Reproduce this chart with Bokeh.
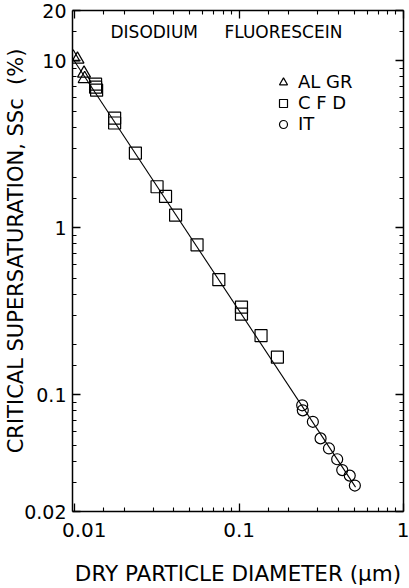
import math
from bokeh.plotting import figure
from bokeh.models import (Range1d, LogAxis, FixedTicker, Label, Legend, LegendItem,
                          CustomJSTickFormatter)
from bokeh.embed import file_html
from bokeh.resources import INLINE

# ---- data ----
algr_d = [0.0098, 0.0104, 0.0114, 0.0115]
algr_ss = [10.5, 10.2, 8.4, 7.8]

cfd_d = [0.0134, 0.0134, 0.0136, 0.0175, 0.0175, 0.0234, 0.0317, 0.0357,
         0.0411, 0.0555, 0.0753, 0.1034, 0.1034, 0.136, 0.171]
cfd_ss = [7.24, 6.95, 6.67, 4.54, 4.24, 2.80, 1.76, 1.54,
          1.19, 0.79, 0.489, 0.335, 0.304, 0.226, 0.168]

it_d = [0.242, 0.244, 0.281, 0.313, 0.352, 0.395, 0.424, 0.471, 0.506]
it_ss = [0.0865, 0.0807, 0.0689, 0.0548, 0.0477, 0.0411, 0.0354, 0.0328, 0.0286]

fit_d = [0.0097, 0.511]
fit_ss = [10.35, 0.028]

x_major = [0.01, 0.1, 1]
x_minor = [0.015, 0.02, 0.03, 0.04, 0.05, 0.06, 0.07, 0.08, 0.09,
           0.15, 0.2, 0.3, 0.4, 0.5, 0.6, 0.7, 0.8, 0.9]
y_major = [0.02, 0.1, 1, 10, 20]
y_minor = [0.03, 0.04, 0.05, 0.06, 0.07, 0.08, 0.09,
           0.15, 0.2, 0.3, 0.4, 0.5, 0.6, 0.7, 0.8, 0.9,
           1.5, 2, 3, 4, 5, 6, 7, 8, 9, 15]

legend_labels = ["AL GR", "C F D", "IT"]
title_words = ["DISODIUM", "FLUORESCEIN"]
x_title = "DRY PARTICLE DIAMETER (\u03bcm)"
NB = "\u00a0"
y_title = NB * 3 + "CRITICAL SUPERSATURATION, SS\u1d04" + NB * 2 + "(%)"

FONT = "DejaVu Sans"

p = figure(width=409, height=588, x_axis_type="log", y_axis_type="log",
           x_range=Range1d(0.0097, 1.0), y_range=Range1d(0.02, 20),
           output_backend="svg", toolbar_location=None,
           min_border_left=72, min_border_right=6, min_border_top=10,
           min_border_bottom=75)
p.xgrid.grid_line_color = None
p.ygrid.grid_line_color = None
p.outline_line_color = None
p.background_fill_color = "white"
p.border_fill_color = "white"

x_fmt = CustomJSTickFormatter(
    code="return (tick < 0.011) ? '\\u00a0\\u00a0\\u00a00.01' : tick.toString();")
y_fmt = CustomJSTickFormatter(code="return tick.toString();")
blank_fmt = CustomJSTickFormatter(code="return '';")

def style_axis(ax, ticks, minors, fmt, standoff, size):
    ax.ticker = FixedTicker(ticks=ticks, minor_ticks=minors)
    ax.formatter = fmt
    ax.axis_line_color = "black"
    ax.axis_line_width = 1.5
    ax.major_tick_line_color = "black"
    ax.minor_tick_line_color = "black"
    ax.major_tick_line_width = 1.3
    ax.minor_tick_line_width = 1.1
    ax.major_tick_in = 8
    ax.major_tick_out = 0
    ax.minor_tick_in = 4
    ax.minor_tick_out = 0
    ax.major_label_text_font = FONT
    ax.major_label_text_font_size = size
    ax.major_label_text_color = "black"
    ax.major_label_standoff = standoff
    ax.axis_label_text_font = FONT
    ax.axis_label_text_font_style = "normal"
    ax.axis_label_text_color = "black"

xa = p.xaxis[0]
style_axis(xa, x_major, x_minor, x_fmt, 6, "20px")
xa.axis_label = x_title
xa.axis_label_text_font_size = "21.5px"
xa.axis_label_standoff = 16

ya = p.yaxis[0]
style_axis(ya, y_major, y_minor, y_fmt, 6, "19px")
ya.axis_label = y_title
ya.axis_label_text_font_size = "21px"
ya.axis_label_standoff = -7

top = LogAxis()
style_axis(top, x_major, x_minor, blank_fmt, 0, "1px")
p.add_layout(top, "above")
right = LogAxis()
style_axis(right, y_major, y_minor, blank_fmt, 0, "1px")
p.add_layout(right, "right")

# fit line and data
p.line(fit_d, fit_ss, line_color="black", line_width=1.1)
r_tri = p.scatter(algr_d, algr_ss, marker="triangle", size=13, fill_color=None,
                  line_color="black", line_width=1.2)
r_sq = p.scatter(cfd_d, cfd_ss, marker="square", size=12, fill_color=None,
                 line_color="black", line_width=1.2)
r_ci = p.scatter(it_d, it_ss, marker="circle", size=11, fill_color=None,
                 line_color="black", line_width=1.2)

legend = Legend(items=[LegendItem(label=legend_labels[0], renderers=[r_tri]),
                       LegendItem(label=legend_labels[1], renderers=[r_sq]),
                       LegendItem(label=legend_labels[2], renderers=[r_ci])],
                location=(201, 377), margin=0, padding=0, spacing=0,
                glyph_width=20, glyph_height=20, label_height=20,
                label_standoff=5, label_text_font=FONT,
                label_text_font_size="18px", label_text_color="black",
                border_line_color=None, background_fill_alpha=0)
p.add_layout(legend)

p.add_layout(Label(x=38, y=480, x_units="screen", y_units="screen", text=title_words[0],
                   text_font=FONT, text_font_size="17px", text_baseline="middle",
                   text_color="black"))
p.add_layout(Label(x=152, y=480, x_units="screen", y_units="screen", text=title_words[1],
                   text_font=FONT, text_font_size="17px", text_baseline="middle",
                   text_color="black"))

open("out.html", "w").write(file_html(p, INLINE))
